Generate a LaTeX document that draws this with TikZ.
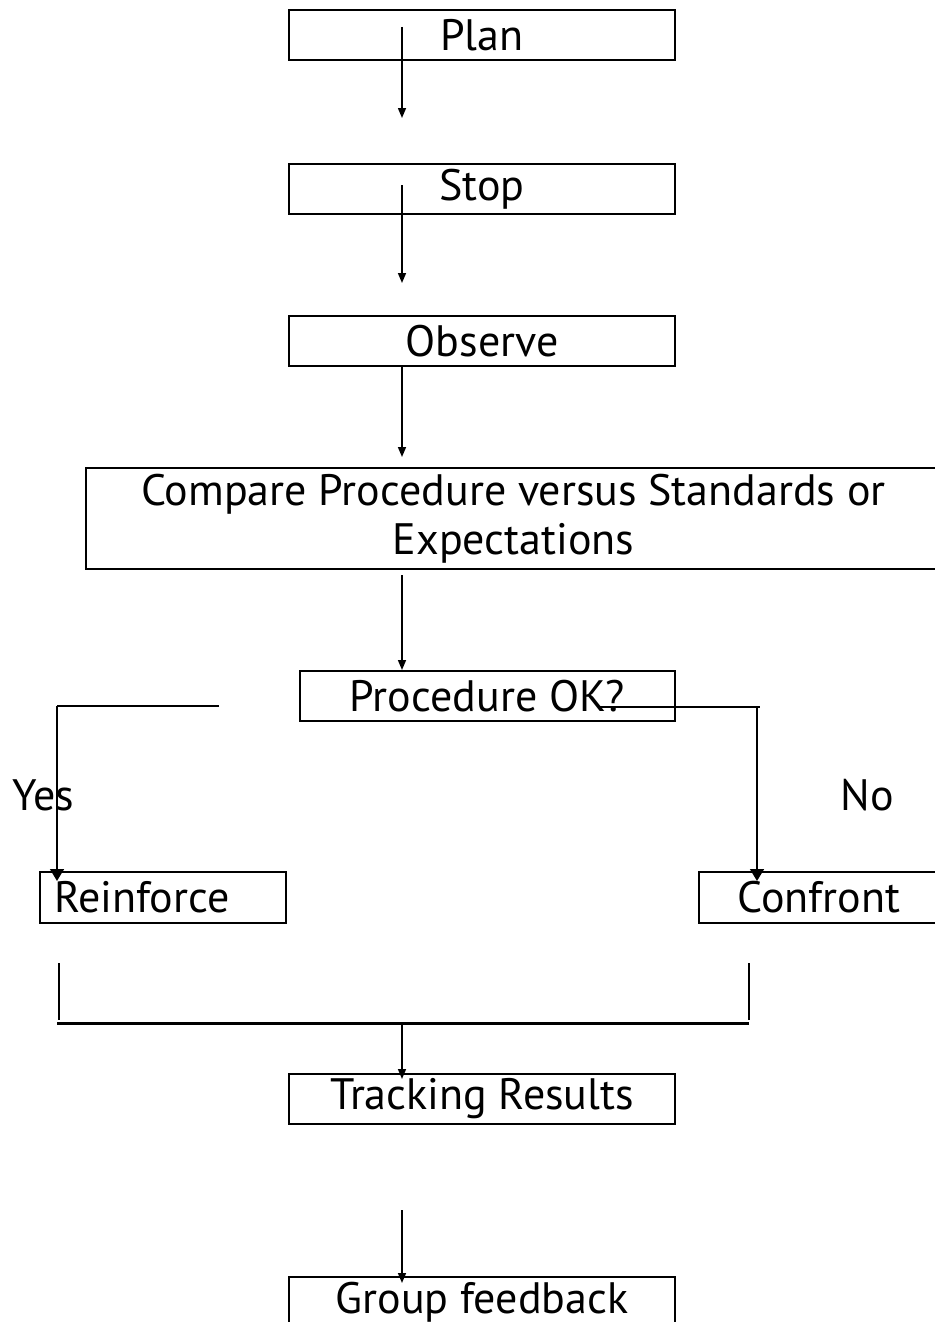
\documentclass[tikz,border=0pt]{standalone}
\usepackage{fontspec}
\setmainfont{PT Sans}
\usetikzlibrary{arrows.meta}

\begin{document}
\begin{tikzpicture}[x=1pt, y=-1pt, font=\fontsize{44}{49}\selectfont,
    stage/.style={draw, line width=2pt, minimum width=386pt, minimum height=50pt, inner sep=0pt, anchor=north west},
    flow/.style={line width=1.5pt, -{Triangle[length=10pt,width=8pt]}},
    branch/.style={line width=1.5pt, -{Triangle[length=12pt,width=14pt]}},
    bar/.style={line width=2.2pt}]
\useasboundingbox (0,0) rectangle (934,1322);

% Main column of steps
\node[stage] (plan) at (288,9) {Plan};
\node[stage] (stop) at (288,163) {Stop};
\node[stage] (observe) at (288,315) {Observe};
\node[stage, minimum width=855pt, minimum height=101pt, align=center] (compare) at (85,467) {Compare Procedure versus Standards or\\Expectations};
\node[stage, minimum width=375pt] (check) at (299,670) {Procedure OK?};

% Outcomes
\node[stage, minimum width=246pt, minimum height=51pt, text width=218pt, inner xsep=14pt, align=left] (reinforce) at (39,871) {Reinforce};
\node[stage, minimum width=240pt, minimum height=51pt] (confront) at (698,871) {Confront};
\node (yes) at (43,795) {Yes};
\node (no) at (867,795) {No};

% Follow-up
\node[stage] (tracking) at (288,1073) {Tracking Results};
\node[stage] (feedback) at (288,1276) {Group feedback};

% Arrows down the column
\draw[flow] ([shift={(114,18)}]plan.north west) -- ++(0,91);
\draw[flow] ([shift={(114,22)}]stop.north west) -- ++(0,98);
\draw[flow] ([xshift=114pt]observe.south west) -- ++(0,90);
\draw[flow] ([shift={(317,5)}]compare.south west) -- ([xshift=103pt]check.north west);

% Yes / No branches
\coordinate (yes start) at (219,706);
\coordinate (no start) at (600,707);
\draw[bar] (yes start) -- (57,706);
\draw[branch] (57,706) -- ([shift={(18,10)}]reinforce.north west);
\draw[bar] (no start) -- (760,707);
\draw[branch] (757,707) -- ([shift={(59,10)}]confront.north west);

% Merge back together
\draw[line width=1.5pt] ([shift={(20,39)}]reinforce.south west) -- ++(0,57);
\draw[line width=1.5pt] ([shift={(51,39)}]confront.south west) -- ++(0,57);
\draw[line width=3pt] (57,1023) -- (749,1023);
\draw[flow] (402,1023) -- ([shift={(114,6)}]tracking.north west);
\draw[flow] ([shift={(114,85)}]tracking.south west) -- ([shift={(114,7)}]feedback.north west);

\end{tikzpicture}
\end{document}
